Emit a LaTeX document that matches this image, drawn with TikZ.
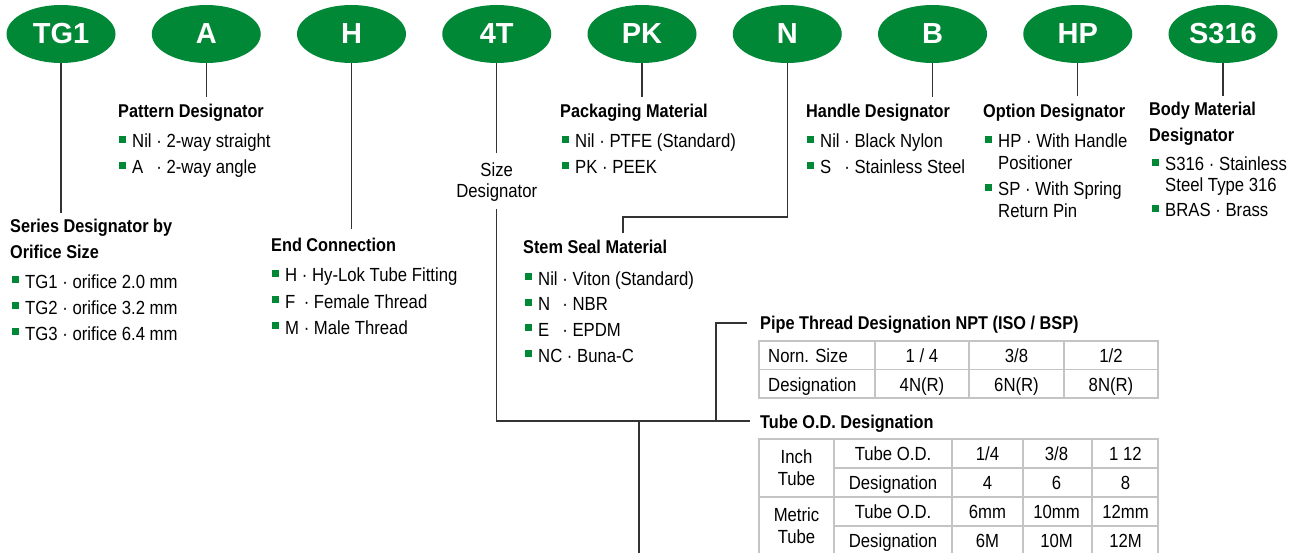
\documentclass[tikz,border=0pt]{standalone}
\usepackage{fontspec}
\setmainfont{Liberation Sans}[FakeStretch=0.88]
\newfontfamily\ovalfont{Liberation Sans}
\usetikzlibrary{shapes.geometric}
\definecolor{tggreen}{HTML}{008837}
\definecolor{cellgray}{HTML}{C4C4C4}
\newcommand\bul{\textcolor{tggreen}{\rule[5pt]{7pt}{7pt}}\hspace{6pt}}
\tikzset{
 oval/.style={ellipse,fill=tggreen,minimum width=109pt,minimum height=58pt,inner sep=0pt,text=white,font=\ovalfont\bfseries\fontsize{29}{29}\selectfont},
 con/.style={line width=1.1pt,black!80},
 ttl/.style={anchor=base west,inner sep=0pt,font=\bfseries\fontsize{18.5}{22}\selectfont},
 item/.style={anchor=base west,inner sep=0pt,font=\fontsize{19}{22}\selectfont},
 cell/.style={anchor=base,inner sep=0pt,font=\fontsize{19}{22}\selectfont},
 grid/.style={line width=1.2pt,cellgray}
}
\begin{document}
\begin{tikzpicture}[x=1pt,y=-1pt]
\useasboundingbox (0,0) rectangle (1295,553);
\foreach \t/\n [count=\i] in {TG1/ser,A/pat,H/end,4T/siz,PK/pkg,N/stm,B/hdl,HP/opt,S316/bdy}
  \node[oval] (\n) at ({61+145.25*(\i-1)},34) {\t};
% connectors
\coordinate (ser-e) at (61,213);\coordinate (pat-e) at (206.25,97);\coordinate (end-e) at (351.5,229);
\coordinate (pkg-e) at (642,97);\coordinate (hdl-e) at (932.5,97);\coordinate (opt-e) at (1077.75,96);\coordinate (bdy-e) at (1223,96);
\foreach \n in {ser,pat,end,pkg,hdl,opt,bdy}\draw[con](\n)--(\n-e);
\coordinate (stm-k) at (623,217);\coordinate (stm-e) at (623,233);\draw[con](stm)|-(stm-k)--(stm-e);
\coordinate (siz-t) at (496.75,153);\coordinate (siz-b) at (496.75,209);\coordinate (jn) at (496.75,421);
\coordinate (br) at (716,421);\coordinate (dn) at (639,421);\coordinate (dn-e) at (639,560);
\coordinate (pipe-e) at (747,323);\coordinate (tube-e) at (750,421);
\draw[con](siz)--(siz-t);\draw[con](siz-b)--(jn)--(tube-e);
\draw[con](br)|-(pipe-e);\draw[con](dn)--(dn-e);
% series
\node[ttl] (ser-t1) at (10,233) {Series Designator by};\node[ttl] (ser-t2) at (10,259) {Orifice Size};
\foreach \t [count=\i] in {{TG1 · orifice 2.0 mm},{TG2 · orifice 3.2 mm},{TG3 · orifice 6.4 mm}}
  \node[item] (ser-\i) at (12,{288+26*(\i-1)}) {\bul\t};
% pattern
\node[ttl] (pat-t) at (118,118) {Pattern Designator};
\foreach \t [count=\i] in {{Nil · 2-way straight},{\rlap{A}\hphantom{Nil} · 2-way angle}}
  \node[item] (pat-\i) at (119,{148+26*(\i-1)}) {\bul\t};
% end connection
\node[ttl] (end-t) at (271,252) {End Connection};
\foreach \t [count=\i] in {{H · Hy-Lok Tube Fitting},{\rlap{F}\hphantom{M} · Female Thread},{M · Male Thread}}
  \node[item] (end-\i) at (272,{282+26*(\i-1)}) {\bul\t};
% size
\node[cell] (siz-1) at (496.75,177) {Size};\node[cell] (siz-2) at (496.75,198) {Designator};
% packaging
\node[ttl] (pkg-t) at (560,118) {Packaging Material};
\foreach \t [count=\i] in {{Nil · PTFE (Standard)},{PK · PEEK}}
  \node[item] (pkg-\i) at (562,{148+26*(\i-1)}) {\bul\t};
% stem seal
\node[ttl] (stm-t) at (523,254) {Stem Seal Material};
\foreach \t [count=\i] in {{Nil · Viton (Standard)},{\rlap{N}\hphantom{Nil} · NBR},{\rlap{E}\hphantom{Nil} · EPDM},{NC · Buna-C}}
  \node[item] (stm-\i) at (525,{285+25.7*(\i-1)}) {\bul\t};
% handle
\node[ttl] (hdl-t) at (806,118) {Handle Designator};
\foreach \t [count=\i] in {{Nil · Black Nylon},{\rlap{S}\hphantom{Nil} · Stainless Steel}}
  \node[item] (hdl-\i) at (807,{148+26*(\i-1)}) {\bul\t};
% option
\node[ttl] (opt-t) at (983,118) {Option Designator};
\node[item] (opt-1) at (985,148) {\bul HP · With Handle};\node[item] (opt-1b) at (998,170) {Positioner};
\node[item] (opt-2) at (985,196) {\bul SP · With Spring};\node[item] (opt-2b) at (998,218) {Return Pin};
% body
\node[ttl] (bdy-t1) at (1149,116) {Body Material};\node[ttl] (bdy-t2) at (1149,142) {Designator};
\node[item] (bdy-1) at (1152,171) {\bul S316 · Stainless};\node[item] (bdy-1b) at (1165,192) {Steel Type 316};
\node[item] (bdy-2) at (1152,217) {\bul BRAS · Brass};
% pipe thread table
\node[ttl] (pipe-t) at (760,329) {Pipe Thread Designation NPT (ISO / BSP)};
\draw[grid](759,341)rectangle(1158,398)(759,369.5)--(1158,369.5);
\foreach \x in {875,969,1064}\draw[grid](\x,341)--(\x,398);
\node[item] (pa-0) at (768,362) {Norn. Size};\node[item] (pb-0) at (768,391) {Designation};
\foreach \t [count=\i] in {{1 / 4},3/8,1/2}\node[cell] (pa-\i) at ({922+94.5*(\i-1)},362) {\t};
\foreach \t [count=\i] in {4N(R),6N(R),8N(R)}\node[cell] (pb-\i) at ({922+94.5*(\i-1)},391) {\t};
% tube table
\node[ttl] (tube-t) at (760,428) {Tube O.D. Designation};
\draw[grid](759,439)rectangle(1158,556)(759,497)--(1158,497)(834,468)--(1158,468)(834,526)--(1158,526);
\foreach \x in {834,952,1023,1092}\draw[grid](\x,439)--(\x,556);
\node[cell] (in-1) at (796.5,463) {Inch};\node[cell] (in-2) at (796.5,485) {Tube};
\node[cell] (mt-1) at (796.5,521) {Metric};\node[cell] (mt-2) at (796.5,543) {Tube};
\foreach \t [count=\i] in {Tube O.D.,Designation,Tube O.D.,Designation}\node[cell] (tl-\i) at (893,{460+29*(\i-1)}) {\t};
\foreach \t [count=\i] in {1/4,3/8,1 12}\node[cell] (ti-\i) at ({987.5+69*(\i-1)},460) {\t};
\foreach \t [count=\i] in {4,6,8}\node[cell] (tj-\i) at ({987.5+69*(\i-1)},489) {\t};
\foreach \t [count=\i] in {6mm,10mm,12mm}\node[cell] (tk-\i) at ({987.5+69*(\i-1)},518) {\t};
\foreach \t [count=\i] in {6M,10M,12M}\node[cell] (tm-\i) at ({987.5+69*(\i-1)},547) {\t};
\end{tikzpicture}
\end{document}
